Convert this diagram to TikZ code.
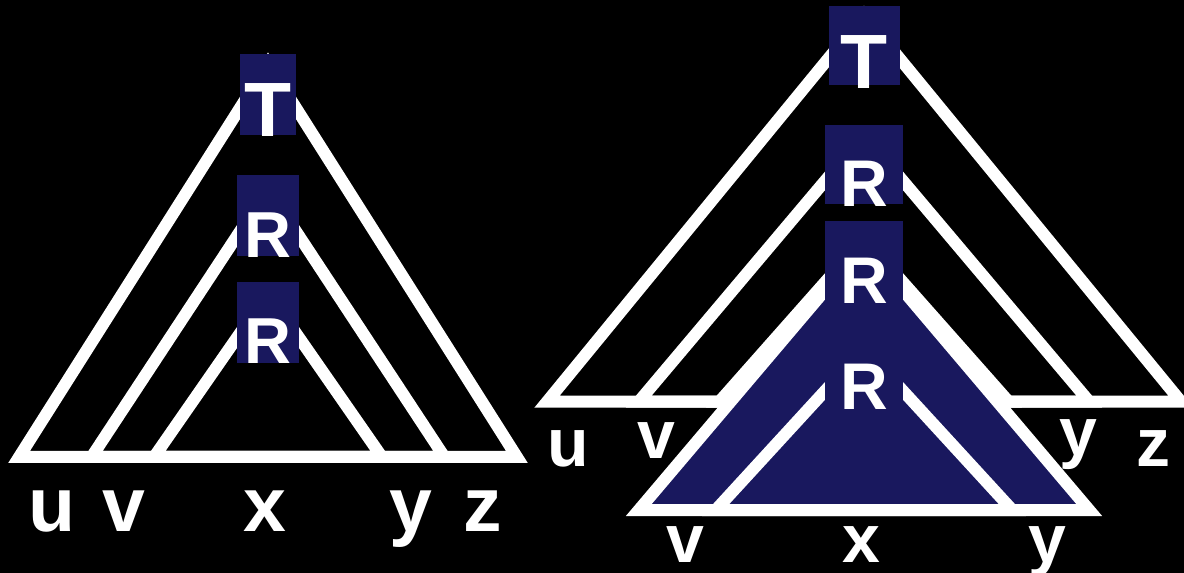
\documentclass[tikz,border=0pt]{standalone}
\usepackage{fontspec}
\setmainfont{Liberation Sans}
\definecolor{navy}{RGB}{25,24,94}
\begin{document}
\begin{tikzpicture}[x=1pt,y=-1pt,
  tri/.style={draw=white,line width=12pt,line join=miter},
  filledtri/.style={draw=white,fill=navy,line width=12pt,line join=miter},
  navybox/.style={fill=navy,draw=none,inner sep=0pt},
  bigletter/.style={text=white,inner sep=0pt,anchor=base,font=\fontsize{77}{80}\selectfont\bfseries},
  rletter/.style={text=white,inner sep=0pt,anchor=base,font=\fontsize{66}{70}\selectfont\bfseries},
  leafl/.style={text=white,inner sep=0pt,anchor=base,font=\fontsize{77}{80}\selectfont\bfseries},
  leafr/.style={text=white,inner sep=0pt,anchor=base,font=\fontsize{68}{72}\selectfont\bfseries}]
\fill[black] (0,0) rectangle (1184,573);
\useasboundingbox (0,0) rectangle (1184,573);

% ---------- left figure ----------
\draw[tri] (19.2,456.8) -- (268,63.7) -- (516.8,456.8) -- cycle;
\draw[tri] (91.7,456.8) -- (268,188.8) -- (444.3,456.8) -- cycle;
\draw[tri] (154.2,456.8) -- (268,292.9) -- (381.8,456.8) -- cycle;

\node[navybox,minimum width=56pt,minimum height=81pt] (lT) at (268,94.5) {};
\node[navybox,minimum width=62pt,minimum height=81pt] (lR1) at (268,215.5) {};
\node[navybox,minimum width=62pt,minimum height=81pt] (lR2) at (268,322.3) {};
\node[bigletter] (lTt) at (268.3,136.5) {T};
\node[rletter,font=\fontsize{65}{70}\selectfont\bfseries] (lR1t) at (267.8,257) {R};
\node[rletter,font=\fontsize{65}{70}\selectfont\bfseries] (lR2t) at (267.8,363.7) {R};

\node[leafl] (lu) at (52,531.5) {u};
\node[leafl] (lv) at (124,531.5) {v};
\node[leafl] (lx) at (265,531.5) {x};
\node[leafl] (ly) at (411,531.5) {y};
\node[leafl] (lz) at (483,531.5) {z};

% ---------- right figure ----------
\draw[tri] (547,401.7) -- (864,15.0) -- (1181,401.7) -- cycle;
\draw[tri] (638.7,401.7) -- (864,134.7) -- (1089.3,401.7) -- cycle;
\draw[tri] (719.3,401.7) -- (864,238.2) -- (1008.7,401.7) -- cycle;
\draw[filledtri] (638.8,510) -- (864,244.3) -- (1089.2,510) -- cycle;
\draw[tri] (715.7,510) -- (864,348.4) -- (1012.3,510) -- cycle;

\node[navybox,minimum width=71pt,minimum height=79pt] (rT) at (864.5,45.5) {};
\node[navybox,minimum width=77.7pt,minimum height=79pt] (rR1) at (863.8,164.5) {};
\node[navybox,minimum width=77.7pt,minimum height=79pt] (rR2) at (863.8,260.3) {};
\node[navybox,minimum width=77.7pt,minimum height=79pt] (rR3) at (863.8,365.5) {};
\node[bigletter] (rTt) at (864.5,88) {T};
\node[rletter] (rR1t) at (864.2,206.4) {R};
\node[rletter] (rR2t) at (864.2,303.7) {R};
\node[rletter] (rR3t) at (864.2,409) {R};

\node[leafr] (ru) at (568.5,466.3) {u};
\node[leafr] (rv1) at (656.7,458) {v};
\node[leafr] (ry1) at (1078.3,455) {y};
\node[leafr] (rz) at (1153.3,466) {z};
\node[leafr] (rv2) at (685.5,562.5) {v};
\node[leafr] (rx) at (861,562.5) {x};
\node[leafr] (ry2) at (1047.5,562.5) {y};
\end{tikzpicture}
\end{document}
